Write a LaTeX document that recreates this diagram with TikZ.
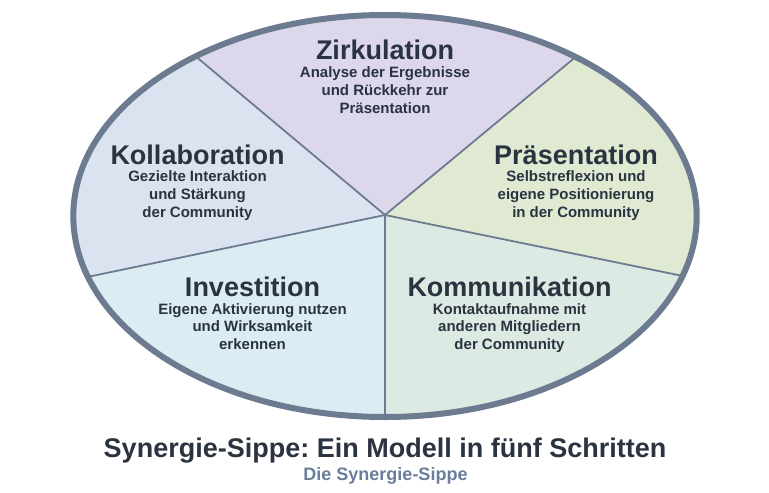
\documentclass[tikz,border=0pt]{standalone}
\usepackage{fontspec}
\setmainfont{Liberation Sans}
\frenchspacing
\definecolor{rim}{HTML}{6D7B90}
\definecolor{ink}{HTML}{2A3340}
\definecolor{subink}{HTML}{6A7D9A}
\definecolor{zirk}{HTML}{DCD7EB}
\definecolor{praes}{HTML}{E0E9D2}
\definecolor{komm}{HTML}{DDE9E3}
\definecolor{inv}{HTML}{DBEDF3}
\definecolor{koll}{HTML}{DBE3F1}
\tikzset{
  head/.style={anchor=base,inner sep=0pt,text=ink,font=\bfseries\fontsize{27}{27}\selectfont},
  sub/.style={anchor=base,inner sep=0pt,text=ink,font=\bfseries\fontsize{15}{15}\selectfont},
  divider/.style={draw=rim,line width=1.8pt},
  rimline/.style={draw=rim,line width=6pt}
}
\begin{document}
\begin{tikzpicture}[x=1pt,y=-1pt]
\useasboundingbox[fill=white] (0,0) rectangle (769,493);
\coordinate (C) at (385,215);
\coordinate (UL) at (-170,-250);
\coordinate (UR) at (946,-250);
\coordinate (L) at (-494,398);
\coordinate (R) at (1264,395);
\coordinate (B) at (385,700);
\begin{scope}
  \clip (385,216) ellipse [x radius=311.7, y radius=201];
  \fill[zirk] (C) -- (UL) -- (UR) -- cycle;
  \fill[praes] (C) -- (UR) -- (1300,-250) -- (R) -- cycle;
  \fill[komm] (C) -- (R) -- (1264,700) -- (B) -- cycle;
  \fill[inv] (C) -- (B) -- (-494,700) -- (L) -- cycle;
  \fill[koll] (C) -- (L) -- (-494,-250) -- (UL) -- cycle;
  \draw[divider] (C) -- (UL);
  \draw[divider] (C) -- (UR);
  \draw[divider] (C) -- (L);
  \draw[divider] (C) -- (R);
  \draw[divider] (C) -- (B);
\end{scope}
\draw[rimline] (385,216) ellipse [x radius=311.7, y radius=201];

\node[head] (zt) at (385,59.3) {Zirkulation};
\node[sub] (z1) at (385,77.3) {Analyse der Ergebnisse};
\node[sub] (z2) at (385,95.3) {und Rückkehr zur};
\node[sub] (z3) at (385,113.3) {Präsentation};

\node[head] (kt) at (197.5,164) {Kollaboration};
\node[sub] (k1) at (197.5,181.7) {Gezielte Interaktion};
\node[sub] (k2) at (197.5,199.5) {und Stärkung};
\node[sub] (k3) at (197.5,217.3) {der Community};

\node[head] (pt) at (576,164) {Präsentation};
\node[sub] (p1) at (576,181.7) {Selbstreflexion und};
\node[sub] (p2) at (576,199.5) {eigene Positionierung};
\node[sub] (p3) at (576,217.3) {in der Community};

\node[head] (it) at (252.5,296) {Investition};
\node[sub] (i1) at (252.5,314) {Eigene Aktivierung nutzen};
\node[sub] (i2) at (252.5,331.7) {und Wirksamkeit};
\node[sub] (i3) at (252.5,349.5) {erkennen};

\node[head] (mt) at (509.5,296) {Kommunikation};
\node[sub] (m1) at (509.5,314) {Kontaktaufnahme mit};
\node[sub] (m2) at (509.5,331.7) {anderen Mitgliedern};
\node[sub] (m3) at (509.5,349.5) {der Community};

\node[head] (title) at (385,457) {Synergie-Sippe: Ein Modell in fünf Schritten};
\node[anchor=base,inner sep=0pt,text=subink,font=\bfseries\fontsize{18}{18}\selectfont] (subtitle) at (385.5,480) {Die Synergie-Sippe};
\end{tikzpicture}
\end{document}
